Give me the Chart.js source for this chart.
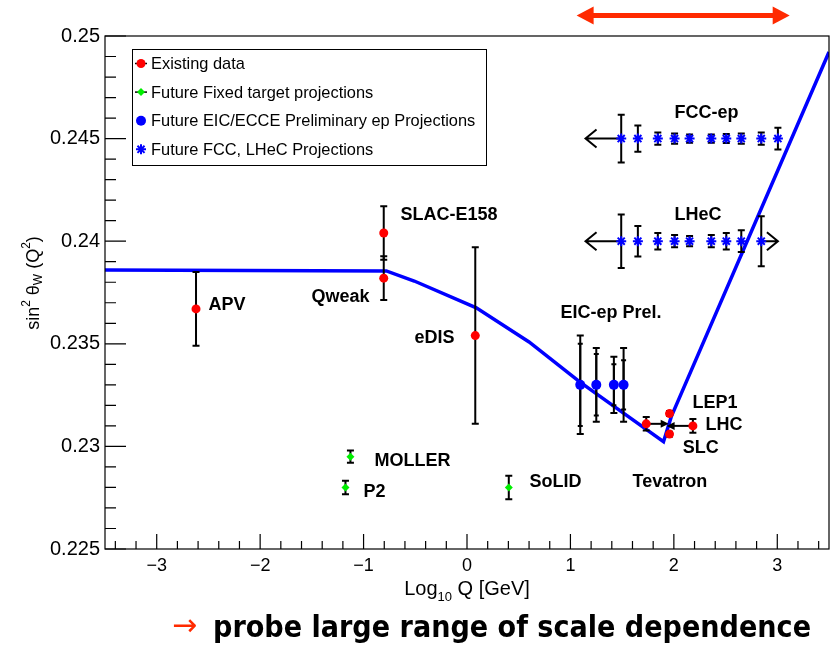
<!DOCTYPE html>
<html>
<head>
<meta charset="utf-8">
<script src="https://cdn.jsdelivr.net/npm/chart.js@4.4.0/dist/chart.umd.min.js"></script>
<style>
  html, body { margin: 0; padding: 0; background: #fff; }
  #wrap { position: relative; width: 833px; height: 645px; }
</style>
</head>
<body>
<div id="wrap"><canvas id="c" width="833" height="645"></canvas></div>
<script>
// running of sin^2 theta_W (SM prediction)
const curveX = [-3.5, -0.78, -0.51, 0.09, 0.60, 1.09, 1.90, 1.975, 3.5];
const curveY = [0.23860, 0.23855, 0.23806, 0.23675, 0.23509, 0.23314, 0.23023, 0.23145, 0.24922];

// existing data
const existNames = ['APV', 'Qweak', 'SLAC-E158', 'eDIS', 'Tevatron', 'LEP1', 'SLC', 'LHC'];
const existX = [-2.62, -0.805, -0.805, 0.08, 1.733, 1.958, 1.958, 2.184];
const existY = [0.2367, 0.2382, 0.2404, 0.2354, 0.2311, 0.2316, 0.2306, 0.2310];
const existErr = [0.0018, 0.00107, 0.0013, 0.0043, 0.00033, 0.00012, 0.00012, 0.00033];
const existArrowTo = [null, null, null, null, 1.95, null, null, 1.93];

// future fixed target
const fixedNames = ['MOLLER', 'P2', 'SoLID'];
const fixedX = [-1.127, -1.175, 0.404];
const fixedY = [0.2295, 0.2280, 0.2280];
const fixedErr = [0.0003, 0.00033, 0.00057];

// EIC/ECCE preliminary
const eicX = [1.095, 1.25, 1.42, 1.514];
const eicY = [0.2330, 0.2330, 0.2330, 0.2330];
const eicErrTot = [0.0024, 0.0018, 0.00137, 0.0018];
const eicErrStat = [0.0020, 0.0015, 0.0010, 0.0012];

// FCC-ep and LHeC projections
const fccX = [1.491, 1.652, 1.845, 2.007, 2.152, 2.362, 2.507, 2.652, 2.845, 3.006];
const fccY = [0.245, 0.245, 0.245, 0.245, 0.245, 0.245, 0.245, 0.245, 0.245, 0.245];
const fccErr = [0.00116, 0.00064, 0.0003, 0.00025, 0.0002, 0.0002, 0.00022, 0.00025, 0.0003, 0.00053];
const lhecX = [1.491, 1.652, 1.845, 2.007, 2.152, 2.362, 2.507, 2.652, 2.845];
const lhecY = [0.240, 0.240, 0.240, 0.240, 0.240, 0.240, 0.240, 0.240, 0.240];
const lhecErr = [0.0013, 0.00074, 0.0004, 0.0003, 0.00025, 0.0003, 0.0004, 0.00053, 0.00122];
const fccArrowTo = [1.146];
const lhecArrowTo = [1.146, 3.006];

// red range arrow above the frame
const rangeX = [1.06, 3.12];
const rangeY = 0.2510;

// text labels (anchor = left / middle, in data units)
const labelText = ['SLAC-E158', 'APV', 'Qweak', 'eDIS', 'EIC-ep Prel.', 'MOLLER', 'P2', 'SoLID', 'LEP1', 'LHC', 'SLC', 'Tevatron', 'FCC-ep', 'LHeC'];
const labelX = [-0.644, -2.50, -1.504, -0.508, 0.904, -0.895, -1.001, 0.604, 2.181, 2.307, 2.085, 1.601, 2.007, 2.007];
const labelY = [0.24128, 0.23689, 0.23728, 0.23528, 0.2365, 0.22929, 0.22778, 0.22827, 0.23212, 0.23104, 0.22992, 0.22827, 0.24625, 0.24128];

const xTickValues = [-3, -2, -1, 0, 1, 2, 3];
const xRange = [-3.5, 3.5];
const xMinor = 0.2;
const yRange = [0.225, 0.25];
const yStep = 0.005;
const yMinor = 0.001;

const FONT = '"Liberation Sans", Arial, Helvetica, sans-serif';
const pts = (xs, ys) => xs.map((x, i) => ({ x: x, y: ys[i] }));

function errBar(ctx, x, yTop, yBot, cap) {
    ctx.beginPath();
    ctx.moveTo(x, yTop); ctx.lineTo(x, yBot);
    ctx.moveTo(x - cap, yTop); ctx.lineTo(x + cap, yTop);
    ctx.moveTo(x - cap, yBot); ctx.lineTo(x + cap, yBot);
    ctx.stroke();
}

function openArrow(ctx, x0, x1, y) {
    const d = x1 < x0 ? 1 : -1;
    ctx.beginPath();
    ctx.moveTo(x0, y); ctx.lineTo(x1, y);
    ctx.moveTo(x1 + d * 11, y - 9); ctx.lineTo(x1, y); ctx.lineTo(x1 + d * 11, y + 9);
    ctx.stroke();
}

function filledArrow(ctx, x0, x1, y, len, half, width) {
    const d = x1 < x0 ? 1 : -1;
    ctx.lineWidth = width;
    ctx.beginPath();
    ctx.moveTo(x0, y); ctx.lineTo(x1 + d * len * 0.8, y);
    ctx.stroke();
    ctx.beginPath();
    ctx.moveTo(x1, y); ctx.lineTo(x1 + d * len, y - half); ctx.lineTo(x1 + d * len, y + half);
    ctx.closePath();
    ctx.fill();
}

const decor = {
    id: 'decor',
    beforeDraw(chart) {
        const ctx = chart.ctx;
        ctx.save();
        ctx.fillStyle = '#fff';
        ctx.fillRect(0, 0, chart.width, chart.height);
        ctx.restore();
    },
    afterDatasetDraw(chart, args) {
        // error bars go on top of the curve, under the markers
        if (args.index !== 4) return;
        const ctx = chart.ctx, sx = chart.scales.x, sy = chart.scales.y;
        const X = v => sx.getPixelForValue(v), Y = v => sy.getPixelForValue(v);
        ctx.save();
        ctx.strokeStyle = '#000';
        ctx.fillStyle = '#000';
        ctx.lineWidth = 2;
        existX.forEach((x, i) => errBar(ctx, X(x), Y(existY[i] + existErr[i]), Y(existY[i] - existErr[i]), 3.5));
        fixedX.forEach((x, i) => errBar(ctx, X(x), Y(fixedY[i] + fixedErr[i]), Y(fixedY[i] - fixedErr[i]), 3.5));
        eicX.forEach((x, i) => {
            errBar(ctx, X(x), Y(eicY[i] + eicErrTot[i]), Y(eicY[i] - eicErrTot[i]), 3.5);
            errBar(ctx, X(x), Y(eicY[i] + eicErrStat[i]), Y(eicY[i] - eicErrStat[i]), 2.5);
        });
        fccX.forEach((x, i) => errBar(ctx, X(x), Y(fccY[i] + fccErr[i]), Y(fccY[i] - fccErr[i]), 3.5));
        lhecX.forEach((x, i) => errBar(ctx, X(x), Y(lhecY[i] + lhecErr[i]), Y(lhecY[i] - lhecErr[i]), 3.5));

        openArrow(ctx, X(fccX[0]), X(fccArrowTo[0]), Y(fccY[0]));
        openArrow(ctx, X(lhecX[0]), X(lhecArrowTo[0]), Y(lhecY[0]));
        openArrow(ctx, X(lhecX[lhecX.length - 1]), X(lhecArrowTo[1]), Y(lhecY[0]));

        existArrowTo.forEach((t, i) => {
            if (t === null) return;
            filledArrow(ctx, X(existX[i]), X(t), Y(existY[i]), 8, 4, 2);
        });
        ctx.restore();
    },
    afterDraw(chart) {
        const ctx = chart.ctx, a = chart.chartArea, sx = chart.scales.x, sy = chart.scales.y;
        const X = v => sx.getPixelForValue(v), Y = v => sy.getPixelForValue(v);
        ctx.save();

        // frame
        ctx.strokeStyle = '#000';
        ctx.lineWidth = 1.2;
        ctx.strokeRect(a.left, a.top, a.right - a.left, a.bottom - a.top);

        // ticks, drawn inward like ROOT
        ctx.lineWidth = 1.2;
        ctx.beginPath();
        sx.ticks.forEach(t => { const p = X(t.value); ctx.moveTo(p, a.bottom); ctx.lineTo(p, a.bottom - 15); });
        for (let k = -17; k <= 17; k++) {
            if (k % 5 === 0) continue;
            const p = X(k * xMinor); ctx.moveTo(p, a.bottom); ctx.lineTo(p, a.bottom - 8);
        }
        sy.ticks.forEach(t => { const p = Y(t.value); ctx.moveTo(a.left, p); ctx.lineTo(a.left + 21, p); });
        for (let k = 1; k < 25; k++) {
            if (k % 5 === 0) continue;
            const p = Y(yRange[0] + k * yMinor); ctx.moveTo(a.left, p); ctx.lineTo(a.left + 11, p);
        }
        ctx.stroke();

        // annotations
        ctx.fillStyle = '#000';
        ctx.font = 'bold 18px ' + FONT;
        ctx.textAlign = 'left';
        ctx.textBaseline = 'middle';
        labelText.forEach((s, i) => ctx.fillText(s, X(labelX[i]), Y(labelY[i])));

        // legend box
        const lx = a.left + 27, ly = a.top + 13, lw = 354, lh = 116;
        ctx.fillStyle = '#fff';
        ctx.fillRect(lx, ly, lw, lh);
        ctx.strokeStyle = '#000';
        ctx.lineWidth = 1;
        ctx.strokeRect(lx + 0.5, ly + 0.5, lw, lh);
        ctx.font = '16.4px ' + FONT;
        chart.data.datasets.slice(0, 4).forEach((ds, i) => {
            const ry = ly + 14.5 + i * 28.6, mx = lx + 9;
            if (i < 2) {
                ctx.strokeStyle = '#000'; ctx.lineWidth = 1.5;
                ctx.beginPath(); ctx.moveTo(mx - 6, ry); ctx.lineTo(mx + 6, ry); ctx.stroke();
            }
            ctx.fillStyle = ds.backgroundColor;
            ctx.strokeStyle = ds.borderColor || ds.backgroundColor;
            ctx.lineWidth = ds.borderWidth;
            Chart.helpers.drawPoint(ctx, { pointStyle: ds.pointStyle, radius: ds.pointRadius, rotation: 0, borderWidth: ds.borderWidth }, mx, ry);
            ctx.fillStyle = '#000';
            ctx.fillText(ds.label, lx + 19, ry + 1);
        });

        // y title: sin^2 theta_W (Q^2)
        ctx.save();
        ctx.translate(34, 283);
        ctx.rotate(-Math.PI / 2);
        const big = '18px ' + FONT, small = '12px ' + FONT;
        const parts = [['sin', big, 0], ['2', small, -7], [' \u03b8', big, 0], ['W', small, 5], [' (Q', big, 0], ['2', small, -7], [')', big, 0]];
        let w = 0;
        parts.forEach(p => { ctx.font = p[1]; w += ctx.measureText(p[0]).width; });
        let cx = -w / 2;
        ctx.textBaseline = 'middle';
        parts.forEach(p => { ctx.font = p[1]; ctx.fillText(p[0], cx, p[2]); cx += ctx.measureText(p[0]).width; });
        ctx.restore();

        // x title: Log10 Q [GeV]
        const xbig = '20px ' + FONT, xsmall = '13px ' + FONT;
        const xp = [['Log', xbig, 0], ['10', xsmall, 6], [' Q [GeV]', xbig, 0]];
        w = 0;
        xp.forEach(p => { ctx.font = p[1]; w += ctx.measureText(p[0]).width; });
        cx = X(0) - w / 2;
        ctx.textBaseline = 'alphabetic';
        xp.forEach(p => { ctx.font = p[1]; ctx.fillText(p[0], cx, 595 + p[2]); cx += ctx.measureText(p[0]).width; });

        // red range arrow above the frame
        ctx.strokeStyle = '#ff2a00';
        ctx.fillStyle = '#ff2a00';
        const ry = Y(rangeY), rx0 = X(rangeX[0]), rx1 = X(rangeX[1]);
        ctx.lineWidth = 5;
        ctx.beginPath(); ctx.moveTo(rx0 + 10, ry); ctx.lineTo(rx1 - 10, ry); ctx.stroke();
        ctx.beginPath(); ctx.moveTo(rx0, ry); ctx.lineTo(rx0 + 17, ry - 9); ctx.lineTo(rx0 + 17, ry + 9); ctx.closePath(); ctx.fill();
        ctx.beginPath(); ctx.moveTo(rx1, ry); ctx.lineTo(rx1 - 17, ry - 9); ctx.lineTo(rx1 - 17, ry + 9); ctx.closePath(); ctx.fill();

        // bottom remark
        ctx.font = '30px "DejaVu Sans", sans-serif';
        ctx.fillStyle = '#ff2a00';
        ctx.fillText('\u2192', 172, 635);
        ctx.font = 'bold 31px "DejaVu Sans", sans-serif';
        ctx.fillStyle = '#000';
        const note = 'probe large range of scale dependence';
        const nw = ctx.measureText(note).width;
        ctx.translate(213, 637);
        ctx.scale(598 / nw, 1);
        ctx.fillText(note, 0, 0);
        ctx.restore();
    }
};

new Chart(document.getElementById('c').getContext('2d'), {
    type: 'scatter',
    data: {
        datasets: [
            { label: 'Existing data', data: pts(existX, existY), pointStyle: 'circle', pointRadius: 4.5, backgroundColor: '#ff0000', borderColor: '#ff0000', borderWidth: 0 },
            { label: 'Future Fixed target projections', data: pts(fixedX, fixedY), pointStyle: 'rectRot', pointRadius: 4, backgroundColor: '#00ee00', borderColor: '#00ee00', borderWidth: 0 },
            { label: 'Future EIC/ECCE Preliminary ep Projections', data: pts(eicX, eicY), pointStyle: 'circle', pointRadius: 5, backgroundColor: '#0000ff', borderColor: '#0000ff', borderWidth: 0 },
            { label: 'Future FCC, LHeC Projections', data: pts(fccX, fccY).concat(pts(lhecX, lhecY)), pointStyle: 'star', pointRadius: 5, backgroundColor: '#0000ff', borderColor: '#0000ff', borderWidth: 2 },
            { type: 'line', label: 'SM running', data: pts(curveX, curveY), borderColor: '#0000ff', borderWidth: 3.5, pointRadius: 0, fill: false, tension: 0, showLine: true }
        ]
    },
    options: {
        responsive: false,
        animation: false,
        layout: { autoPadding: false, padding: { top: 36, right: 4, left: 0, bottom: 0 } },
        plugins: { legend: { display: false }, tooltip: { enabled: false } },
        scales: {
            x: {
                type: 'linear', min: xRange[0], max: xRange[1],
                grid: { display: false, drawTicks: false }, border: { display: false },
                afterBuildTicks: s => { s.ticks = xTickValues.map(v => ({ value: v })); },
                ticks: {
                    autoSkip: false, maxRotation: 0, padding: 6, color: '#000',
                    font: { size: 18, family: FONT },
                    callback: v => v < 0 ? '\u2212' + Math.abs(v) : String(v)
                },
                afterFit: s => { s.height = 96; s.paddingLeft = 0; s.paddingRight = 0; }
            },
            y: {
                type: 'linear', min: yRange[0], max: yRange[1],
                grid: { display: false, drawTicks: false }, border: { display: false },
                ticks: {
                    stepSize: yStep, includeBounds: false, padding: 5, color: '#000',
                    font: { size: 20, family: FONT },
                    callback: v => String(Math.round(v * 1000) / 1000)
                },
                afterFit: s => { s.width = 105; }
            }
        }
    },
    plugins: [decor]
});
</script>
</body>
</html>
